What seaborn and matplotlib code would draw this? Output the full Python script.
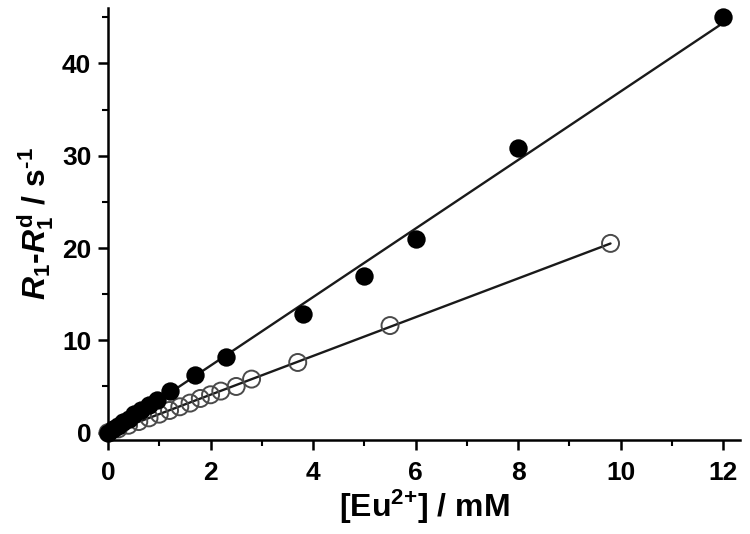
import numpy as np
import pandas as pd
import matplotlib
matplotlib.use("Agg")
import matplotlib.pyplot as plt
import seaborn as sns
from matplotlib.ticker import MultipleLocator

# Data
x_filled = [0, 0.1, 0.2, 0.3, 0.4, 0.5, 0.65, 0.8, 0.95, 1.2, 1.7, 2.3, 3.8, 5.0, 6.0, 8.0, 12.0]
y_filled = [0, 0.35, 0.7, 1.1, 1.5, 2.0, 2.5, 3.0, 3.5, 4.5, 6.2, 8.2, 12.8, 17.0, 21.0, 30.8, 45.0]
x_open = [0, 0.2, 0.4, 0.6, 0.8, 1.0, 1.2, 1.4, 1.6, 1.8, 2.0, 2.2, 2.5, 2.8, 3.7, 5.5, 9.8]
y_open = [0, 0.4, 0.8, 1.2, 1.6, 2.0, 2.4, 2.8, 3.2, 3.7, 4.1, 4.5, 5.0, 5.8, 7.6, 11.6, 20.5]
x_ticks = [0, 2, 4, 6, 8, 10, 12]
y_ticks = [0, 10, 20, 30, 40]

sns.set_theme(style="ticks")
plt.rcParams['font.family'] = ['Liberation Sans', 'DejaVu Sans']
plt.rcParams['mathtext.fontset'] = 'custom'
plt.rcParams['mathtext.rm'] = 'Liberation Sans:bold'
plt.rcParams['mathtext.it'] = 'Liberation Sans:bold:italic'
plt.rcParams['mathtext.bf'] = 'Liberation Sans:bold'
plt.rcParams['text.color'] = 'black'
plt.rcParams['axes.labelcolor'] = 'black'
plt.rcParams['xtick.color'] = 'black'
plt.rcParams['ytick.color'] = 'black'

df_f = pd.DataFrame({"x": x_filled, "y": y_filled})
df_o = pd.DataFrame({"x": x_open, "y": y_open})

fig = plt.figure(figsize=(7.5, 5.34), dpi=100)
ax = fig.add_axes([0.144, 0.176, 0.843, 0.809])

sns.regplot(data=df_f, x="x", y="y", ax=ax, scatter=False, ci=None,
            line_kws=dict(color="#1a1a1a", lw=1.7))
sns.regplot(data=df_o, x="x", y="y", ax=ax, scatter=False, ci=None,
            line_kws=dict(color="#1a1a1a", lw=1.7))
sns.scatterplot(data=df_o, x="x", y="y", ax=ax, s=150, marker="o",
                facecolor="none", edgecolor="#4a4a4a", linewidth=1.4, clip_on=False, zorder=3)
sns.scatterplot(data=df_f, x="x", y="y", ax=ax, s=175, marker="o",
                color="black", edgecolor="black", linewidth=0, clip_on=False, zorder=4)

ax.set_xlim(0, 12.33)
ax.set_ylim(-0.8, 46)
ax.set_xticks(x_ticks)
ax.set_yticks(y_ticks)
ax.xaxis.set_minor_locator(MultipleLocator(1))
ax.yaxis.set_minor_locator(MultipleLocator(5))
ax.tick_params(which="major", direction="out", length=7, width=1.8, labelsize=19, pad=5)
ax.tick_params(axis="x", which="major", pad=8)
ax.tick_params(which="minor", direction="out", length=4, width=1.5)
for lab in ax.get_xticklabels() + ax.get_yticklabels():
    lab.set_fontweight("bold")

for side in ["top", "right"]:
    ax.spines[side].set_visible(False)
for side in ["left", "bottom"]:
    ax.spines[side].set_linewidth(1.8)
    ax.spines[side].set_color("black")

ax.set_xlabel(r"[Eu$^{\mathrm{2}{+}}$] / mM", fontsize=23, fontweight="bold", labelpad=2)
ax.set_ylabel(r"$\it{R}_{\mathrm{1}}$-$\it{R}_{\mathrm{1}}^{\mathrm{d}}$ / s$^{\text{-1}}$",
              fontsize=23, fontweight="bold", labelpad=4)

fig.savefig("out.png", dpi=100)
